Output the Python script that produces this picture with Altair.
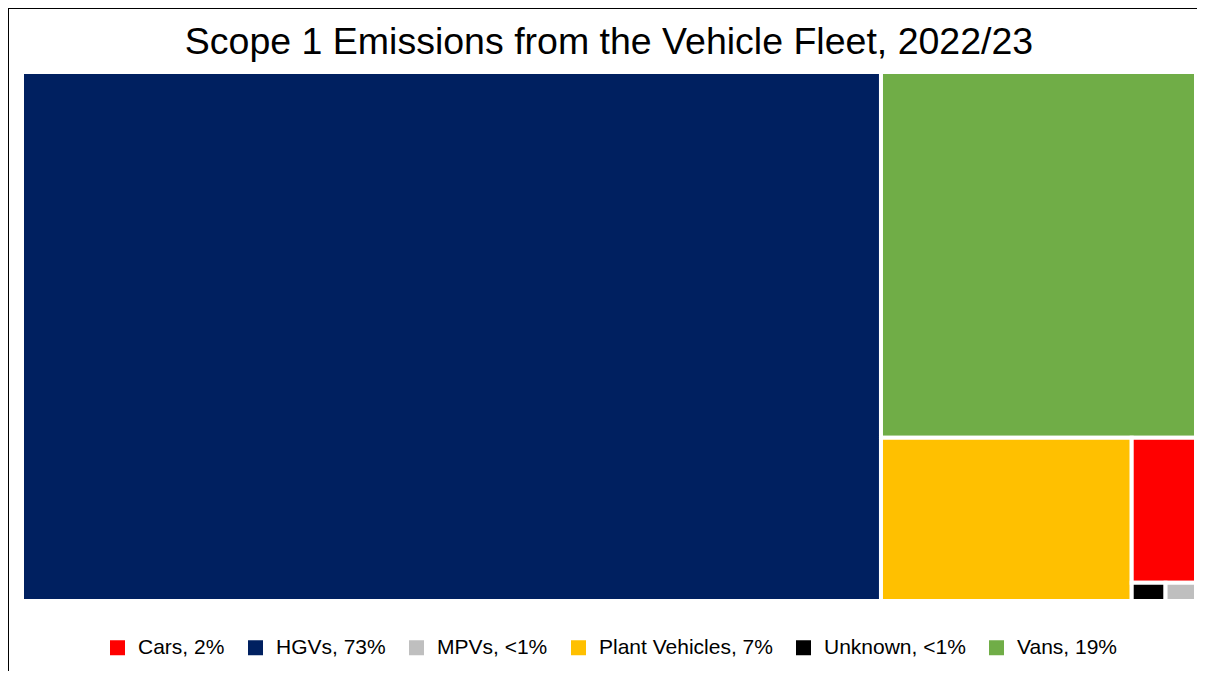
import altair as alt
import pandas as pd

# ---- data ----
categories = ["Cars", "HGVs", "MPVs", "Plant Vehicles", "Unknown", "Vans"]
shares = [1.50, 73.16, 0.09, 6.59, 0.10, 18.55]          # % of scope 1 fleet emissions
pct_labels = ["2%", "73%", "<1%", "7%", "<1%", "19%"]
colors = ["#FF0000", "#002060", "#BFBFBF", "#FFC000", "#000000", "#70AD47"]

W, H = 1174, 529  # plot area (treemap domain units == pixels)


# ---- squarified treemap layout (computed from the values) ----
def layout_row(sizes, x, y, dx, dy):
    covered = sum(sizes)
    rects = []
    if dx >= dy:
        width = covered / dy
        cy = y
        for s in sizes:
            h = s / width
            rects.append((x, cy, x + width, cy + h))
            cy += h
    else:
        height = covered / dx
        cx = x
        for s in sizes:
            w = s / height
            rects.append((cx, y, cx + w, y + height))
            cx += w
    return rects


def leftover(sizes, x, y, dx, dy):
    covered = sum(sizes)
    if dx >= dy:
        width = covered / dy
        return x + width, y, dx - width, dy
    height = covered / dx
    return x, y + height, dx, dy - height


def worst(sizes, x, y, dx, dy):
    r = layout_row(sizes, x, y, dx, dy)
    return max(max((x1 - x0) / (y1 - y0), (y1 - y0) / (x1 - x0)) for x0, y0, x1, y1 in r)


def squarify(sizes, x, y, dx, dy):
    if not sizes:
        return []
    if len(sizes) == 1:
        return layout_row(sizes, x, y, dx, dy)
    i = 1
    while i < len(sizes) and worst(sizes[:i], x, y, dx, dy) >= worst(sizes[: i + 1], x, y, dx, dy):
        i += 1
    cur, rem = sizes[:i], sizes[i:]
    lx, ly, ldx, ldy = leftover(cur, x, y, dx, dy)
    return layout_row(cur, x, y, dx, dy) + squarify(rem, lx, ly, ldx, ldy)


order = sorted(range(len(categories)), key=lambda k: -shares[k])
total = sum(shares)
areas = [shares[k] / total * W * H for k in order]
rects = squarify(areas, 0, 0, W, H)

rows = []
for k, (x0, y0, x1, y1) in zip(order, rects):
    rows.append({
        "category": categories[k],
        "label": f"{categories[k]}, {pct_labels[k]}",
        "x0": x0, "x1": x1, "y0": y0, "y1": y1,
    })
df = pd.DataFrame(rows)
legend_labels = [f"{c}, {p}" for c, p in zip(categories, pct_labels)]

xs = alt.Scale(domain=[0, W], nice=False, zero=False)
ys = alt.Scale(domain=[0, H], nice=False, zero=False, reverse=True)

tiles = alt.Chart(df).mark_rect(stroke="white", strokeWidth=4).encode(
    x=alt.X("x0:Q", scale=xs, axis=None),
    x2="x1:Q",
    y=alt.Y("y0:Q", scale=ys, axis=None),
    y2="y1:Q",
    color=alt.Color(
        "label:N",
        scale=alt.Scale(domain=legend_labels, range=colors),
        sort=legend_labels,
        legend=alt.Legend(
            title=None,
            orient="none",
            direction="horizontal",
            legendX=85,
            legendY=565,
            symbolType="square",
            symbolSize=225,
            symbolStrokeWidth=0,
            symbolOpacity=1,
            labelFontSize=21,
            labelFont="Liberation Sans",
            labelColor="#000000",
            labelOffset=10,
            columnPadding=20,
            labelLimit=400,
        ),
    ),
)

frame_v = alt.Chart(alt.Data(values=[{}])).mark_rule(color="black", strokeWidth=1).encode(
    x=alt.value(-13.5), y=alt.value(-64), y2=alt.value(H + 80)
)
frame_h = alt.Chart(alt.Data(values=[{}])).mark_rule(color="black", strokeWidth=1).encode(
    x=alt.value(-14), x2=alt.value(W + 10), y=alt.value(-63.5)
)

chart = alt.layer(tiles, frame_v, frame_h).properties(
    width=W,
    height=H,
    title=alt.TitleParams(
        "Scope 1 Emissions from the Vehicle Fleet, 2022/23",
        fontSize=37.5,
        font="Liberation Sans",
        fontWeight="normal",
        color="#000000",
        anchor="middle",
        offset=-54,
    ),
    autosize=alt.AutoSizeParams(type="none"),
    padding={"left": 14, "top": 64, "right": 1, "bottom": 70},
).configure_view(stroke=None).configure(background="white")

chart.save("out.html", embed_options={"renderer": "svg", "actions": False})
